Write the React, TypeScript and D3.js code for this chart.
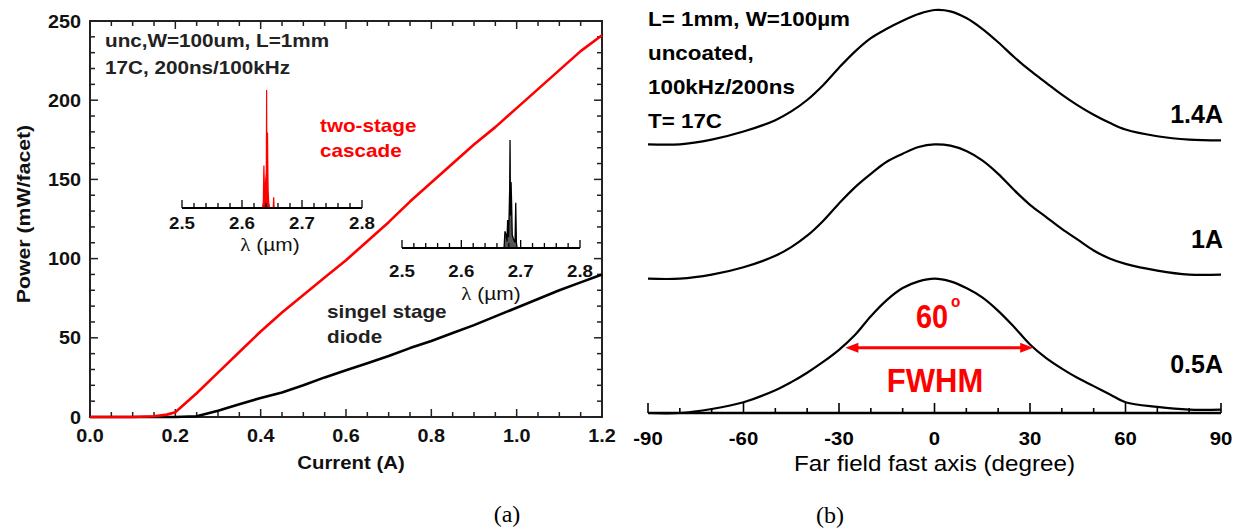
import React from "react";
import * as d3 from "d3";

// ---------- Panel (a) data ----------
const currentA = [0, 0.05, 0.1, 0.15, 0.18, 0.2, 0.25, 0.3, 0.35, 0.4, 0.45, 0.5, 0.55, 0.6, 0.65, 0.7, 0.75, 0.8, 0.85, 0.9, 0.95, 1.0, 1.05, 1.1, 1.15, 1.2];
const powerCascade = [0, 0, 0, 0.5, 1.5, 3, 15, 28, 41, 54, 66, 77, 88, 99, 111, 123, 136, 148, 160, 172, 183, 195, 207, 219, 231, 241];
const powerSingle = [0, 0, 0, 0, 0, 0, 0.5, 4, 8, 12, 15.5, 20, 25, 29.5, 34, 38.5, 43.5, 48, 53, 58, 63.5, 69, 74.5, 80, 85, 90];
const xTicksA = [0, 0.2, 0.4, 0.6, 0.8, 1.0, 1.2];
const yTicksA = [0, 50, 100, 150, 200, 250];

// inset spectra
const lambdaTicks = [2.5, 2.6, 2.7, 2.8];
const lambdaRed = [2.634, 2.6355, 2.6365, 2.6375, 2.639, 2.6405, 2.641, 2.6415, 2.6425, 2.6435, 2.6445, 2.646, 2.652, 2.6528, 2.6536, 2.66];
const intensityRed = [0, 0.05, 0.36, 0.12, 0.2, 0.3, 1.0, 0.25, 0.64, 0.15, 0.05, 0, 0, 0.09, 0, 0];
const lambdaBlack = [2.672, 2.6735, 2.674, 2.6755, 2.677, 2.678, 2.6795, 2.6805, 2.6815, 2.6821, 2.6828, 2.6838, 2.6848, 2.6858, 2.688, 2.6905, 2.6917, 2.6928, 2.694];
const intensityBlack = [0, 0.15, 0.15, 0.12, 0.06, 0.26, 0.1, 0.3, 0.55, 1.0, 0.3, 0.61, 0.4, 0.12, 0.08, 0.05, 0.42, 0.05, 0];

// ---------- Panel (b) data ----------
const angles = [-90, -80, -70, -60, -50, -45, -40, -35, -30, -25, -20, -15, -10, -5, 0, 5, 10, 15, 20, 25, 30, 35, 40, 45, 50, 55, 60, 70, 80, 90];
const ff14 = [0, 0, 0.035, 0.095, 0.18, 0.245, 0.33, 0.44, 0.57, 0.69, 0.79, 0.86, 0.92, 0.97, 1.0, 0.99, 0.94, 0.86, 0.76, 0.65, 0.55, 0.46, 0.37, 0.29, 0.22, 0.16, 0.11, 0.06, 0.035, 0.03];
const ff10 = [0, 0, 0.03, 0.085, 0.17, 0.235, 0.32, 0.43, 0.56, 0.68, 0.78, 0.87, 0.93, 0.98, 1.0, 0.99, 0.95, 0.88, 0.78, 0.66, 0.55, 0.46, 0.37, 0.29, 0.21, 0.15, 0.11, 0.06, 0.03, 0.03];
const ff05 = [0, 0, 0.03, 0.08, 0.17, 0.23, 0.3, 0.38, 0.47, 0.58, 0.72, 0.84, 0.93, 0.98, 1.0, 0.98, 0.93, 0.86, 0.76, 0.64, 0.51, 0.41, 0.33, 0.26, 0.2, 0.14, 0.08, 0.045, 0.025, 0.025];
const ffSeries = [
  { label: "1.4A", values: ff14, offset: 2 },
  { label: "1A", values: ff10, offset: 1 },
  { label: "0.5A", values: ff05, offset: 0 },
];
const xTicksB = [-90, -60, -30, 0, 30, 60, 90];
const fwhmRange = [-28, 31];

const SANS = "Arial, 'Liberation Sans', Helvetica, sans-serif";

function Txt(props: any) {
  const { x, y, sx = 1, rotate, anchor = "start", size, weight = "normal", fill = "#000", family = SANS, children } = props;
  return (
    <text
      transform={`translate(${x},${y})${rotate ? ` rotate(${rotate})` : ""} scale(${sx},1)`}
      textAnchor={anchor}
      fontSize={size}
      fontWeight={weight}
      fill={fill}
      fontFamily={family}
    >
      {children}
    </text>
  );
}

export default function App() {
  // ---- panel (a) scales
  const xA = d3.scaleLinear().domain([0, 1.2]).range([90, 602]);
  const yA = d3.scaleLinear().domain([0, 250]).range([417, 21]);
  const lineA = (vals: number[]) =>
    d3.line<number>().x((_, i) => xA(currentA[i])).y((v) => yA(v))(vals) || "";

  const xMinorA = d3.range(0, 1.2001, 0.05);
  const yMinorA = d3.range(0, 250.01, 10);

  // insets
  const xIn1 = d3.scaleLinear().domain([2.5, 2.8]).range([182, 362]);
  const yIn1 = d3.scaleLinear().domain([0, 1]).range([208, 90]);
  const xIn2 = d3.scaleLinear().domain([2.5, 2.8]).range([402, 580]);
  const yIn2 = d3.scaleLinear().domain([0, 1]).range([248, 140]);
  const lamMinor = d3.range(2.5, 2.8001, 0.02);

  const spectrum = (lam: number[], inten: number[], xs: any, ys: any) => {
    const pts = lam.map((l, i) => [l, inten[i]] as [number, number]);
    const area = d3.area<[number, number]>().x((d) => xs(d[0])).y0(ys(0)).y1((d) => ys(d[1]))(pts) || "";
    const line = d3.line<[number, number]>().x((d) => xs(d[0])).y((d) => ys(d[1]))(pts) || "";
    return { area, line };
  };
  const specR = spectrum(lambdaRed, intensityRed, xIn1, yIn1);
  const specB = spectrum(lambdaBlack, intensityBlack, xIn2, yIn2);

  const inset = (xs: any, y0: number, labelBase: number, titleX: number, titleBase: number) => (
    <g>
      <line x1={xs(2.5)} x2={xs(2.8)} y1={y0} y2={y0} stroke="#000" strokeWidth={1.8} />
      {lamMinor.map((l, i) => {
        const major = i % 5 === 0;
        return <line key={i} x1={xs(l)} x2={xs(l)} y1={y0} y2={y0 - (major ? 8 : 5)} stroke="#000" strokeWidth={1.3} />;
      })}
      {lambdaTicks.map((l) => (
        <Txt key={l} x={xs(l)} y={labelBase} anchor="middle" size={17} weight="bold" sx={1.1} fill="#111">
          {l.toFixed(1)}
        </Txt>
      ))}
      <text
        transform={`translate(${titleX},${titleBase}) scale(1.1,1)`}
        textAnchor="middle"
        fontSize={19}
        fill="#111"
        fontFamily={SANS}
      >
        <tspan fontFamily="'Liberation Serif', 'Times New Roman', serif" fontSize={19}>λ</tspan>
        <tspan> (µm)</tspan>
      </text>
    </g>
  );

  // ---- panel (b) scales
  const xB = d3.scaleLinear().domain([-90, 90]).range([648, 1221]);
  const yB = d3.scaleLinear().domain([0, 3]).range([413, 10]);
  const xMinorB = d3.range(-90, 90.01, 10);
  const ffLine = (vals: number[], off: number) =>
    d3
      .line<number>()
      .x((_, i) => xB(angles[i]))
      .y((v) => yB(v + off))
      .curve(d3.curveCatmullRom.alpha(0.5))(vals) || "";
  const labelBaselines = [123, 248, 373];

  const ay = yB(0.485);
  const ax1 = xB(fwhmRange[0]);
  const ax2 = xB(fwhmRange[1]);

  return (
    <div style={{ position: "absolute", left: 0, top: 0 }}>
      <svg width={1244} height={531} style={{ display: "block", background: "#fff" }}>
        <rect width={1244} height={531} fill="#fff" />
        {/* ================= Panel (a) ================= */}
        <rect x={xA(0)} y={yA(250)} width={xA(1.2) - xA(0)} height={yA(0) - yA(250)} fill="none" stroke="#222" strokeWidth={2} />
        {xMinorA.map((v, i) => {
          const major = i % 4 === 0;
          const len = major ? 8 : 5;
          return (
            <g key={"xa" + i}>
              <line x1={xA(v)} x2={xA(v)} y1={yA(0)} y2={yA(0) - len} stroke="#222" strokeWidth={1.5} />
              <line x1={xA(v)} x2={xA(v)} y1={yA(250)} y2={yA(250) + len} stroke="#222" strokeWidth={1.5} />
            </g>
          );
        })}
        {yMinorA.map((v, i) => {
          const major = i % 5 === 0;
          const len = major ? 8 : 5;
          return (
            <g key={"ya" + i}>
              <line x1={xA(0)} x2={xA(0) + len} y1={yA(v)} y2={yA(v)} stroke="#222" strokeWidth={1.5} />
              <line x1={xA(1.2)} x2={xA(1.2) - len} y1={yA(v)} y2={yA(v)} stroke="#222" strokeWidth={1.5} />
            </g>
          );
        })}
        {xTicksA.map((v) => (
          <Txt key={"xl" + v} x={xA(v)} y={442} anchor="middle" size={18} weight="bold" sx={1.1} fill="#111">
            {v.toFixed(1)}
          </Txt>
        ))}
        {yTicksA.map((v) => (
          <Txt key={"yl" + v} x={81} y={yA(v) + 6.5} anchor="end" size={18} weight="bold" sx={1.1} fill="#111">
            {v}
          </Txt>
        ))}
        <Txt x={351} y={469} anchor="middle" size={18.5} weight="bold" sx={1.1} fill="#111">Current (A)</Txt>
        <Txt x={30} y={214} anchor="middle" rotate={-90} size={19} weight="bold" sx={1.12} fill="#111">Power (mW/facet)</Txt>

        {/* curves */}
        <path d={lineA(powerSingle)} fill="none" stroke="#000" strokeWidth={2.6} strokeLinejoin="round" />
        <path d={lineA(powerCascade)} fill="none" stroke="#ff0000" strokeWidth={2.6} strokeLinejoin="round" />

        {/* annotations */}
        <Txt x={105} y={46.5} size={18} weight="bold" sx={1.15} fill="#222">unc,W=100um, L=1mm</Txt>
        <Txt x={105} y={74} size={18} weight="bold" sx={1.15} fill="#222">17C, 200ns/100kHz</Txt>
        <Txt x={320} y={132} size={18} weight="bold" sx={1.15} fill="#ff0000">two-stage</Txt>
        <Txt x={320} y={157} size={18} weight="bold" sx={1.15} fill="#ff0000">cascade</Txt>
        <Txt x={327} y={318} size={18} weight="bold" sx={1.15} fill="#222">singel stage</Txt>
        <Txt x={327} y={343} size={18} weight="bold" sx={1.15} fill="#222">diode</Txt>

        {/* insets */}
        <path d={specR.area} fill="#ff0000" stroke="none" />
        <path d={specR.line} fill="none" stroke="#ff0000" strokeWidth={1.2} />
        {inset(xIn1, 208, 229, 270, 251)}
        <path d={specB.area} fill="#555" stroke="none" />
        <path d={specB.line} fill="none" stroke="#000" strokeWidth={1.3} />
        {inset(xIn2, 248, 277, 491, 300)}

        <text x={507} y={522} textAnchor="middle" fontSize={24} fontFamily="'Liberation Serif', 'Times New Roman', serif">(a)</text>

        {/* ================= Panel (b) ================= */}
        <line x1={xB(-90)} x2={xB(90)} y1={413} y2={413} stroke="#000" strokeWidth={2.5} />
        {xMinorB.map((v, i) => {
          const major = i % 3 === 0;
          return <line key={"xb" + i} x1={xB(v)} x2={xB(v)} y1={413} y2={413 - (major ? 10 : 5)} stroke="#000" strokeWidth={1.6} />;
        })}
        {xTicksB.map((v) => (
          <Txt key={"xbl" + v} x={xB(v)} y={445} anchor="middle" size={18.5} weight="bold" sx={1.1}>
            {v}
          </Txt>
        ))}
        <Txt x={xB(0)} y={471} anchor="middle" size={22} sx={1.1}>Far field fast axis (degree)</Txt>

        {ffSeries.map((s, i) => (
          <g key={s.label}>
            <path d={ffLine(s.values, s.offset)} fill="none" stroke="#000" strokeWidth={2.2} strokeLinejoin="round" />
            <Txt x={1223} y={labelBaselines[i]} anchor="end" size={25} weight="bold">{s.label}</Txt>
          </g>
        ))}

        {/* conditions text */}
        <Txt x={648} y={26} size={20} weight="bold" sx={1.12}>L= 1mm, W=100µm</Txt>
        <Txt x={648} y={60} size={20} weight="bold" sx={1.12}>uncoated,</Txt>
        <Txt x={648} y={94} size={20} weight="bold" sx={1.12}>100kHz/200ns</Txt>
        <Txt x={648} y={128} size={20} weight="bold" sx={1.12}>T= 17C</Txt>

        {/* FWHM annotation */}
        <line x1={ax1 + 10} x2={ax2 - 10} y1={ay} y2={ay} stroke="#ff0000" strokeWidth={3} />
        <path d={`M${ax1},${ay} L${ax1 + 13},${ay - 5} L${ax1 + 13},${ay + 5} Z`} fill="#ff0000" />
        <path d={`M${ax2},${ay} L${ax2 - 13},${ay - 5} L${ax2 - 13},${ay + 5} Z`} fill="#ff0000" />
        <Txt x={932} y={328} anchor="middle" size={34} weight="bold" sx={0.85} fill="#ff0000">60</Txt>
        <Txt x={951} y={307} size={17} weight="bold" sx={0.9} fill="#ff0000">o</Txt>
        <Txt x={935} y={392} anchor="middle" size={33} weight="bold" sx={0.94} fill="#ff0000">FWHM</Txt>

        <text x={830} y={523} textAnchor="middle" fontSize={24} fontFamily="'Liberation Serif', 'Times New Roman', serif">(b)</text>
      </svg>
    </div>
  );
}
